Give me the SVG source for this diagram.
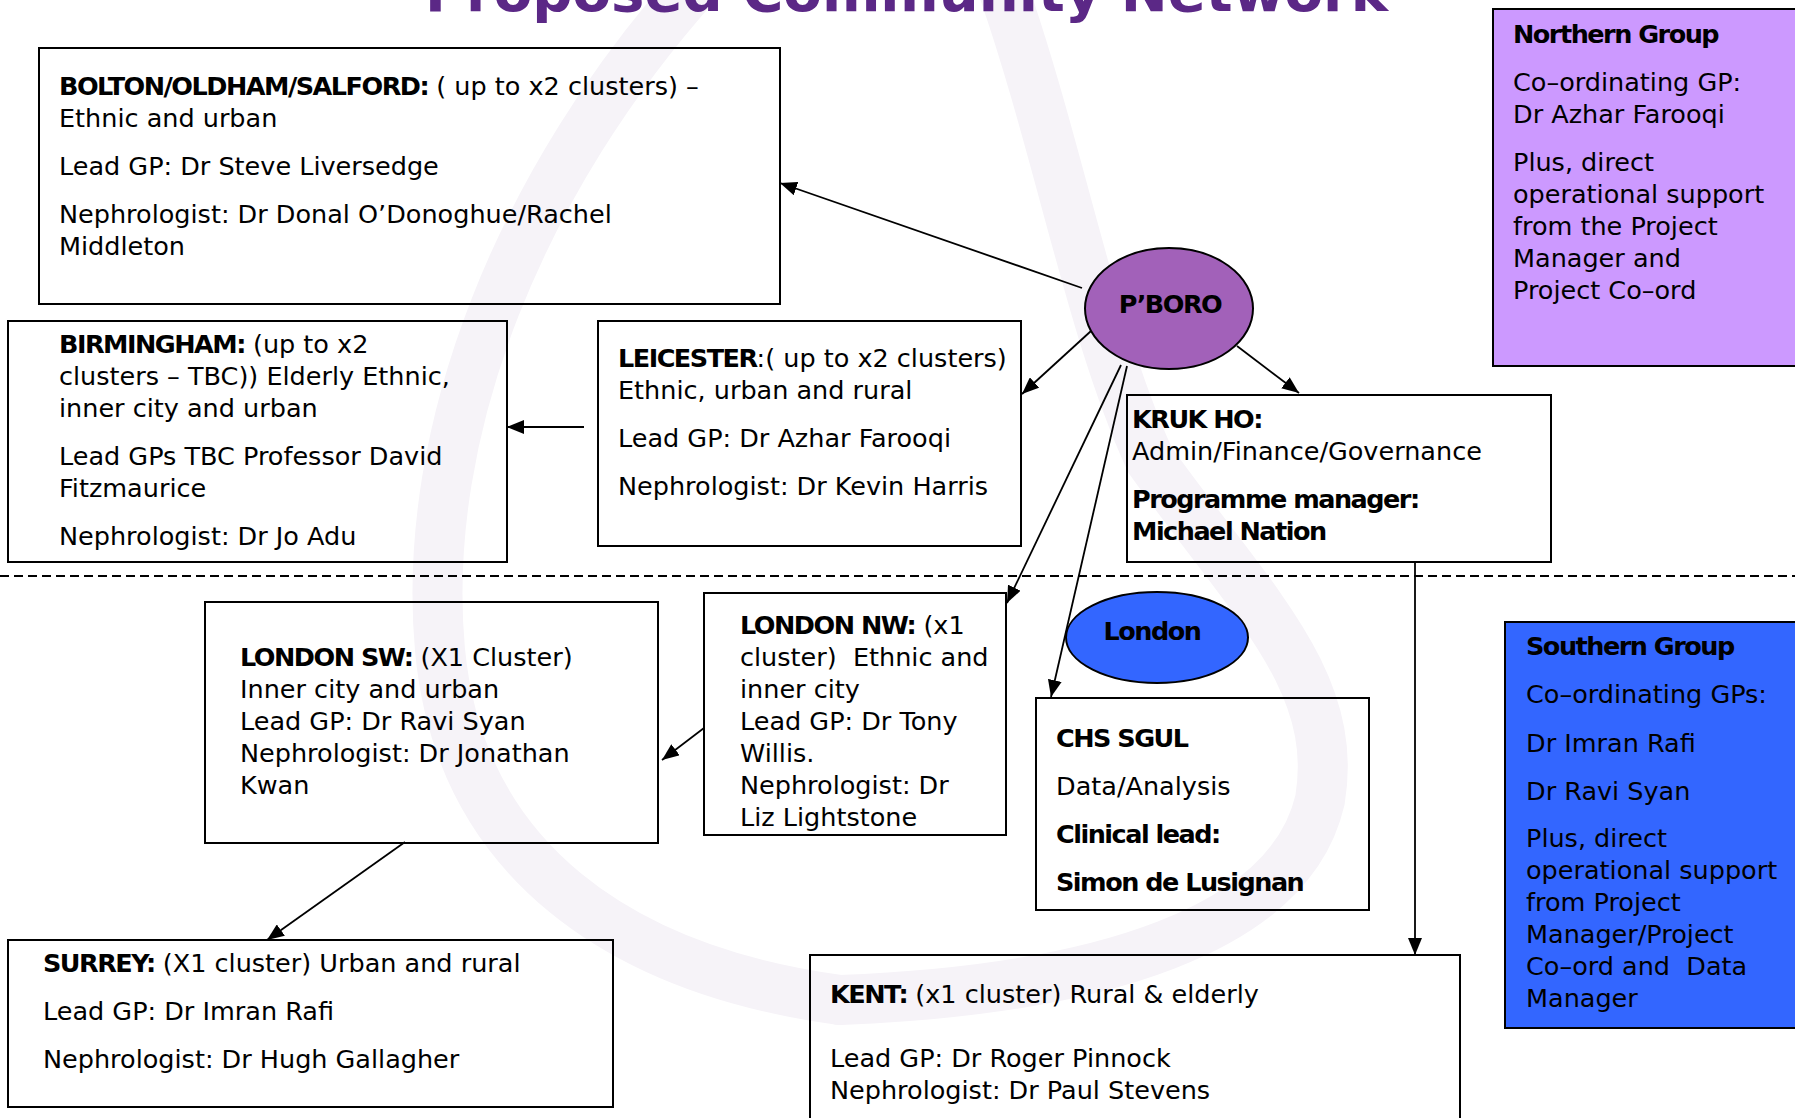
<svg xmlns="http://www.w3.org/2000/svg" width="1795" height="1118" viewBox="0 0 1795 1118">
<defs>
<style>
text{font-family:"DejaVu Sans","Liberation Sans",sans-serif;font-size:25.5px;fill:#000;white-space:pre}
.b{font-weight:bold;letter-spacing:-1.5px}
.box{fill:none;stroke:#000;stroke-width:2}
.con{fill:none;stroke:#000;stroke-width:1.8;marker-end:url(#ah)}
.wm{fill:none;stroke:#f6f3f8;stroke-width:50;stroke-linecap:round}
</style>
<marker id="ah" markerUnits="userSpaceOnUse" markerWidth="18" markerHeight="14" refX="17" refY="7" orient="auto">
<path d="M0,0 L17,7 L0,14 z" fill="#000"/>
</marker>
</defs>
<rect width="1795" height="1118" fill="#ffffff"/>
<g id="watermark">
<path class="wm" d="M700,-20 C520,180 420,430 440,650 C460,860 620,970 840,1000"/>
<path class="wm" d="M1000,-20 C1060,150 1090,330 1150,460 C1250,600 1340,680 1320,800 C1290,930 1100,990 840,1000"/>
</g>
<text id="title" x="425" y="11" textLength="963" lengthAdjust="spacingAndGlyphs" style="font-size:56px;font-weight:bold;fill:#5b2886">Proposed Community Network</text>
<line x1="0" y1="576" x2="1795" y2="576" stroke="#000" stroke-width="2" stroke-dasharray="9,5"/>
<g id="connectors">
<line class="con" x1="1082" y1="288" x2="780" y2="183"/>
<line class="con" x1="1091" y1="331" x2="1022" y2="394"/>
<line class="con" x1="584" y1="427" x2="507" y2="427"/>
<line class="con" x1="1121" y1="365" x2="1007" y2="603"/>
<line class="con" x1="1127" y1="366" x2="1051" y2="697"/>
<line class="con" x1="1237" y1="346" x2="1299" y2="393"/>
<line class="con" x1="1415" y1="562" x2="1415" y2="955"/>
<line class="con" x1="704" y1="728" x2="662" y2="760"/>
<line class="con" x1="405" y1="842" x2="267" y2="940"/>
</g>
<g id="bolton">
<rect class="box" x="39" y="48" width="741" height="256"/>
<text x="59" y="95"><tspan class="b">BOLTON/OLDHAM/SALFORD:</tspan> ( up to x2 clusters) –</text>
<text x="59" y="127">Ethnic and urban</text>
<text x="59" y="175">Lead GP: Dr Steve Liversedge</text>
<text x="59" y="223">Nephrologist: Dr Donal O’Donoghue/Rachel</text>
<text x="59" y="255">Middleton</text>
</g>
<g id="birmingham">
<rect class="box" x="8" y="321" width="499" height="241"/>
<text x="59" y="353"><tspan class="b">BIRMINGHAM:</tspan> (up to x2</text>
<text x="59" y="385">clusters – TBC)) Elderly Ethnic,</text>
<text x="59" y="417">inner city and urban</text>
<text x="59" y="465">Lead GPs TBC Professor David</text>
<text x="59" y="497">Fitzmaurice</text>
<text x="59" y="545">Nephrologist: Dr Jo Adu</text>
</g>
<g id="leicester">
<rect class="box" x="598" y="321" width="423" height="225"/>
<text x="618" y="367"><tspan class="b">LEICESTER</tspan>:( up to x2 clusters)</text>
<text x="618" y="399">Ethnic, urban and rural</text>
<text x="618" y="447">Lead GP: Dr Azhar Farooqi</text>
<text x="618" y="495">Nephrologist: Dr Kevin Harris</text>
</g>
<g id="pboro">
<ellipse cx="1169" cy="308.5" rx="84" ry="60.5" fill="#a261b9" stroke="#000" stroke-width="2"/>
<text x="1170" y="313" text-anchor="middle" class="b">P’BORO</text>
</g>
<g id="kruk">
<rect class="box" x="1127" y="395" width="424" height="167"/>
<text x="1132" y="428" class="b">KRUK HO:</text>
<text x="1132" y="460">Admin/Finance/Governance</text>
<text x="1132" y="508" class="b">Programme manager:</text>
<text x="1132" y="540" class="b">Michael Nation</text>
</g>
<g id="northern">
<rect x="1493" y="9" width="320" height="357" fill="#cc99ff" stroke="#000" stroke-width="2"/>
<text x="1513" y="43" class="b">Northern Group</text>
<text x="1513" y="91">Co–ordinating GP:</text>
<text x="1513" y="123">Dr Azhar Farooqi</text>
<text x="1513" y="171">Plus, direct</text>
<text x="1513" y="203">operational support</text>
<text x="1513" y="235">from the Project</text>
<text x="1513" y="267">Manager and</text>
<text x="1513" y="299">Project Co–ord</text>
</g>
<g id="londonnw">
<rect class="box" x="704" y="593" width="302" height="242"/>
<text x="740" y="634"><tspan class="b">LONDON NW:</tspan> (x1</text>
<text x="740" y="666">cluster)  Ethnic and</text>
<text x="740" y="698">inner city</text>
<text x="740" y="730">Lead GP: Dr Tony</text>
<text x="740" y="762">Willis.</text>
<text x="740" y="794">Nephrologist: Dr</text>
<text x="740" y="826">Liz Lightstone</text>
</g>
<g id="londonsw">
<rect class="box" x="205" y="602" width="453" height="241"/>
<text x="240" y="666"><tspan class="b">LONDON SW:</tspan> (X1 Cluster)</text>
<text x="240" y="698">Inner city and urban</text>
<text x="240" y="730">Lead GP: Dr Ravi Syan</text>
<text x="240" y="762">Nephrologist: Dr Jonathan</text>
<text x="240" y="794">Kwan</text>
</g>
<g id="london">
<ellipse cx="1157" cy="637.5" rx="91" ry="45.5" fill="#3366ff" stroke="#000" stroke-width="2"/>
<text x="1152" y="640" text-anchor="middle" class="b">London</text>
</g>
<g id="chssgul">
<rect class="box" x="1036" y="698" width="333" height="212"/>
<text x="1056" y="747" class="b">CHS SGUL</text>
<text x="1056" y="795">Data/Analysis</text>
<text x="1056" y="843" class="b">Clinical lead:</text>
<text x="1056" y="891" class="b">Simon de Lusignan</text>
</g>
<g id="southern">
<rect x="1505" y="622" width="320" height="406" fill="#3366ff" stroke="#000" stroke-width="2"/>
<text x="1526" y="655" class="b">Southern Group</text>
<text x="1526" y="703">Co–ordinating GPs:</text>
<text x="1526" y="752">Dr Imran Rafi</text>
<text x="1526" y="800">Dr Ravi Syan</text>
<text x="1526" y="847">Plus, direct</text>
<text x="1526" y="879">operational support</text>
<text x="1526" y="911">from Project</text>
<text x="1526" y="943">Manager/Project</text>
<text x="1526" y="975">Co–ord and  Data</text>
<text x="1526" y="1007">Manager</text>
</g>
<g id="surrey">
<rect class="box" x="8" y="940" width="605" height="167"/>
<text x="43" y="972"><tspan class="b">SURREY:</tspan> (X1 cluster) Urban and rural</text>
<text x="43" y="1020">Lead GP: Dr Imran Rafi</text>
<text x="43" y="1068">Nephrologist: Dr Hugh Gallagher</text>
</g>
<g id="kent">
<rect class="box" x="810" y="955" width="650" height="180"/>
<text x="830" y="1003"><tspan class="b">KENT:</tspan> (x1 cluster) Rural &amp; elderly</text>
<text x="830" y="1067">Lead GP: Dr Roger Pinnock</text>
<text x="830" y="1099">Nephrologist: Dr Paul Stevens</text>
</g>
</svg>
